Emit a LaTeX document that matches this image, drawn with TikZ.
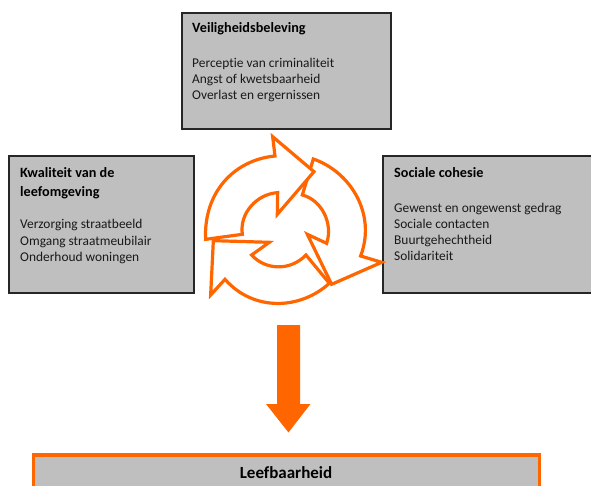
\documentclass[tikz,border=0pt]{standalone}
\usepackage{fontspec}
\setmainfont[Ligatures=NoCommon]{Carlito}
\definecolor{org}{HTML}{FF6600}
\definecolor{gry}{HTML}{BFBFBF}
\tikzset{
 x=1pt,y=-1pt,
 box/.style={draw=black!85,line width=2pt,fill=gry},
 ttl/.style={anchor=west,inner sep=0pt,font=\fontsize{14.2}{19}\selectfont\bfseries,align=left,text=black},
 txt/.style={anchor=west,inner sep=0pt,font=\fontsize{13.4}{16.2}\selectfont,align=left,text=black!90},
 cyc/.style={draw=org,line width=3.2pt,line join=miter,miter limit=10,fill=white}
}
\begin{document}
\begin{tikzpicture}
\useasboundingbox (0,0) rectangle (591,486);
\draw[box] (182,13) rectangle (391,129);
\node[ttl] (veilT) at (192,29) {Veiligheidsbeleving};
\node[txt] (veilB) at (192,80) {Perceptie van criminaliteit\\Angst of kwetsbaarheid\\Overlast en ergernissen};
\draw[box] (9,156) rectangle (194,293);
\node[ttl] (kwalT) at (20,183.5) {Kwaliteit van de\\leefomgeving};
\node[txt] (kwalB) at (20,241.5) {Verzorging straatbeeld\\Omgang straatmeubilair\\Onderhoud woningen};
\draw[box] (383,156) rectangle (600,293);
\node[ttl] (socT) at (394,173) {Sociale cohesie};
\node[txt] (socB) at (394,232) {Gewenst en ongewenst gedrag\\Sociale contacten\\Buurtgehechtheid\\Solidariteit};
\begin{scope}[shift={(190,120)},x=0.3333pt,y=-0.3333pt]
\draw[cyc] (370,117) .. controls (480,155) and (560,280) .. (512,408) -- (575,427) -- (425,493) -- (352,343) -- (410,370) .. controls (430,310) and (395,240) .. (337,225) -- cycle;
\draw[cyc] (418,490) .. controls (330,570) and (190,575) .. (105,478) -- (62,525) -- (70,362) -- (238,367) -- (185,405) .. controls (225,450) and (300,455) .. (348,405) -- cycle;
\draw[cyc] (47,358) .. controls (40,220) and (130,120) .. (255,108) -- (248,50) -- (372,155) -- (262,283) -- (263,218) .. controls (200,222) and (148,280) .. (157,343) -- cycle;
\end{scope}
\fill[org] (277,325) -- (300,325) -- (300,404) -- (310.5,404) -- (288.5,432.5) -- (266,404) -- (277,404) -- cycle;
\draw[draw=org,line width=3.6pt,fill=gry] (33.5,455) rectangle (539.5,500);
\node[inner sep=0pt,font=\fontsize{17}{18}\selectfont\bfseries] (leef) at (286,473) {Leefbaarheid};
\end{tikzpicture}
\end{document}
